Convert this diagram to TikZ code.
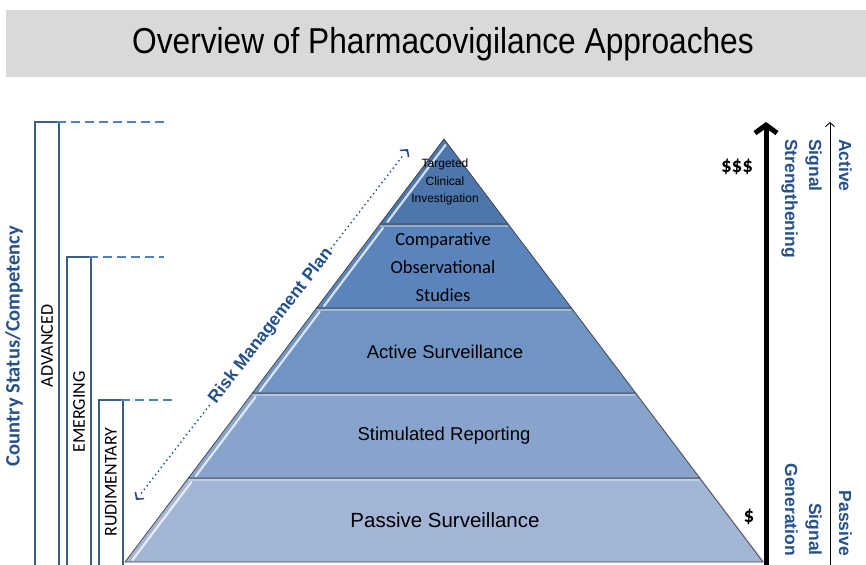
\documentclass[tikz,border=0pt]{standalone}
\usepackage{fontspec}
\setmainfont{Liberation Sans}
\newfontfamily\calibri{Carlito}
\usetikzlibrary{arrows.meta,calc}
\definecolor{txtblue}{RGB}{36,80,140}
\definecolor{barblue}{RGB}{58,94,140}
\definecolor{dashblue}{RGB}{79,129,189}
\definecolor{bannergray}{RGB}{217,217,217}
\definecolor{layA}{RGB}{76,118,172}
\definecolor{layB}{RGB}{90,132,187}
\definecolor{layC}{RGB}{112,148,196}
\definecolor{layD}{RGB}{136,163,204}
\definecolor{layE}{RGB}{162,181,214}
\tikzset{
  layer/.style={draw=black!75, line width=0.7pt},
  laytext/.style={inner sep=0pt, align=center, text=black},
  bar/.style={draw=barblue, line width=2pt, fill=white},
  barlabel/.style={rotate=90, inner sep=0pt, font=\calibri\fontsize{18}{20}\selectfont},
  levdash/.style={draw=dashblue, line width=2pt, dash pattern=on 9pt off 5pt},
  sidetext/.style={rotate=-90, inner sep=0pt, text=txtblue, font=\bfseries\fontsize{17.5}{24}\selectfont},
  highlight/.style={white, opacity=0.75, line width=2.2pt, line cap=round},
  rmpline/.style={txtblue, line width=2pt, line cap=round, dash pattern=on 0pt off 4.6pt}
}
\begin{document}
\begin{tikzpicture}[x=1pt,y=-1pt]
\useasboundingbox (0,0) rectangle (866,564);
\clip (0,0) rectangle (866,564);
% banner
\fill[bannergray] (6,10) rectangle (866,77);
\node[inner sep=0pt, font=\fontsize{36}{40}\selectfont] (title) at (443,44)
  {\scalebox{0.88}[1]{Overview of Pharmacovigilance Approaches}};

% soft shadow on the right side of the pyramid
\fill[black, opacity=0.12] (444,139) -- (765,562) -- (762,562) -- (443,141) -- cycle;
% pyramid layers
\filldraw[layer, fill=layE] (188.35,478) -- (699.65,478) -- (763,562) -- (125,562) -- cycle;
\filldraw[layer, fill=layD] (252.45,393) -- (635.55,393) -- (699.65,478) -- (188.35,478) -- cycle;
\filldraw[layer, fill=layC] (316.55,308) -- (571.45,308) -- (635.55,393) -- (252.45,393) -- cycle;
\filldraw[layer, fill=layB] (379.9,224) -- (508.1,224) -- (571.45,308) -- (316.55,308) -- cycle;
\filldraw[layer, fill=layA] (444,139) -- (508.1,224) -- (379.9,224) -- cycle;
% light bands under separators and glossy strips
\foreach \ya/\yb in {224/308, 308/393, 393/478, 478/562}{
  \draw[white, opacity=0.35, line width=2pt]
    ({444-0.75414*(\ya+2-139)+2}, \ya+2) -- ({444+0.75414*(\ya+2-139)-2}, \ya+2);
}
\foreach \ya/\yb in {145/222, 228/306, 312/391, 397/476, 482/560}{
  \draw[highlight] ({444-0.75414*(\yb-139)+6}, \yb) -- ({444-0.75414*(\ya-139)+6}, \ya);
}

% pyramid texts
\node[laytext, font=\fontsize{12}{17.5}\selectfont] (targeted) at (445,182)
  {Targeted\\Clinical\\Investigation};
\node[laytext, font=\calibri\fontsize{18.5}{28}\selectfont] (comparative) at (443,267)
  {Comparative\\Observational\\Studies};
\node[laytext, font=\fontsize{18.5}{22}\selectfont] (active) at (445,352) {Active Surveillance};
\node[laytext, font=\fontsize{18.5}{22}\selectfont] (stimulated) at (444,436) {Stimulated Reporting};
\node[laytext, font=\fontsize{20.5}{24}\selectfont] (passive) at (445,520) {Passive Surveillance};

% competency bars
\draw[bar] (35,570) -- (35,122) -- (59,122) -- (59,570);
\draw[bar] (67,570) -- (67,257) -- (91,257) -- (91,570);
\draw[bar] (99,570) -- (99,400) -- (123,400) -- (123,570);
\coordinate (advtop) at (57,122);
\coordinate (advend) at (164,122);
\coordinate (emetop) at (89,257);
\coordinate (emeend) at (164,257);
\coordinate (rudtop) at (121,400);
\coordinate (rudend) at (172,400);
\draw[levdash] (advtop) -- (advend);
\draw[levdash] (emetop) -- (emeend);
\draw[levdash] (rudtop) -- (rudend);
\node[barlabel] (advanced) at (47,346) {ADVANCED};
\node[barlabel] (emerging) at (79,412) {EMERGING};
\node[barlabel] (rudimentary) at (111,482) {RUDIMENTARY};
\node[rotate=90, inner sep=0pt, text=txtblue, font=\calibri\bfseries\fontsize{20.5}{24}\selectfont]
  (country) at (14,346) {Country Status/Competency};

% risk management plan
\coordinate (rmplo) at (136,500);
\coordinate (rmphi) at (408,149);
\node[rotate=52.2, inner sep=3pt, text=txtblue, font=\bfseries\fontsize{17.5}{20}\selectfont]
  (rmp) at (271,326) {Risk Management Plan};
\draw[rmpline] ($(rmplo)!9pt!(rmp.west)$) -- (rmp.west);
\draw[rmpline] (rmp.east) -- ($(rmphi)!9pt!(rmp.east)$);
\draw[txtblue, line width=1.6pt, {Straight Barb[length=5pt,width=11pt]}-] (rmplo) -- ($(rmplo)!3pt!(rmp.west)$);
\draw[txtblue, line width=1.6pt, -{Straight Barb[length=5pt,width=11pt]}] ($(rmphi)!3pt!(rmp.east)$) -- (rmphi);

% cost arrow
\coordinate (costlo) at (766,570);
\coordinate (costhi) at (766,122);
\draw[line width=5pt, -{Straight Barb[length=8pt,width=22pt]}] (costlo) -- (costhi);
\node[inner sep=0pt, font=\calibri\bfseries\fontsize{21}{24}\selectfont] (high) at (737,167) {\$\$\$};
\node[inner sep=0pt, font=\calibri\bfseries\fontsize{21}{24}\selectfont] (low) at (749,517) {\$};

% signal texts
\node[sidetext, align=left, anchor=north west] (strength) at (822,139) {Signal\\Strengthening};
\node[sidetext, align=right, anchor=north east] (generation) at (822,556) {Signal\\Generation};

% active / passive arrow
\coordinate (actlo) at (830,570);
\coordinate (acthi) at (830,122);
\draw[line width=0.9pt, -{Straight Barb[length=4pt,width=9pt]}] (actlo) -- (acthi);
\node[sidetext, anchor=north west] (activelab) at (852,139) {Active};
\node[sidetext, anchor=north east] (passivelab) at (852,556) {Passive};
\end{tikzpicture}
\end{document}
